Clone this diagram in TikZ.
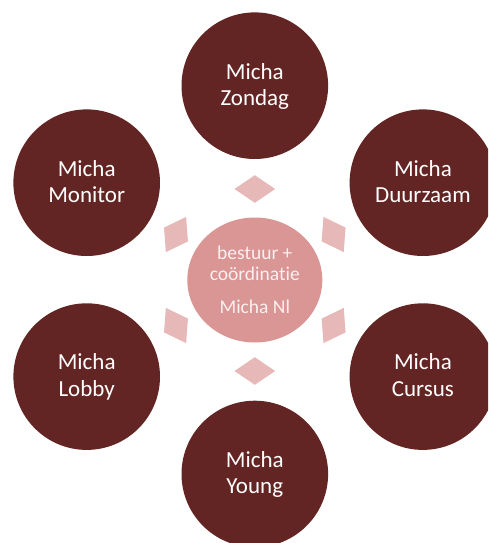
\documentclass[tikz,border=0pt]{standalone}
\usepackage{fontspec}
\setmainfont{Carlito}[Ligatures=NoCommon]
\usetikzlibrary{shapes.geometric,calc}
\definecolor{darkred}{RGB}{99,37,35}
\definecolor{hubpink}{RGB}{217,150,148}
\definecolor{diapink}{RGB}{230,185,184}
\definecolor{hubtext}{RGB}{250,240,240}
\tikzset{
  outer/.style={circle, fill=darkred, draw=none, minimum size=146.6pt, inner sep=0pt},
  hubnode/.style={ellipse, fill=hubpink, draw=none, minimum width=135pt, minimum height=125pt, inner sep=0pt},
  outtext/.style={anchor=base, text=white, inner sep=0pt, font=\fontsize{23}{26}\selectfont},
  hubtxt/.style={anchor=base, text=hubtext, inner sep=0pt, font=\fontsize{19.5}{21}\selectfont},
  dia/.style={fill=diapink, draw=none}
}
\begin{document}
\begin{tikzpicture}[x=1pt,y=-1pt]
\clip (0,0) rectangle (488,543);
\useasboundingbox (0,0) rectangle (488,543);
\fill[white] (0,0) rectangle (488,543);
% hub
\node[hubnode] (hub) at (254.8,280) {};
% outer circles
\node[outer] (zondag) at (254.8,85.7) {};
\node[outer] (monitor) at (86.7,182.7) {};
\node[outer] (duurzaam) at (422.9,182.7) {};
\node[outer] (lobby) at (86.7,376.6) {};
\node[outer] (cursus) at (422.9,376.6) {};
\node[outer] (young) at (254.8,474) {};
% diamonds
\foreach \a in {90,150,210,270,330,30} {
  \fill[dia, shift={(hub.center)}, rotate=\a-90] (-20.3,-91) -- (0,-104.8) -- (20.3,-91) -- (0,-77.2) -- cycle;
}
% outer texts
\foreach \n/\t in {zondag/Zondag, monitor/Monitor, duurzaam/Duurzaam, lobby/Lobby, cursus/Cursus, young/Young} {
  \node[outtext] (\n-a) at ($(\n.center)+(0,-6.7)$) {Micha};
  \node[outtext] (\n-b) at ($(\n.center)+(0,19.5)$) {\t};
}
% hub texts
\node[hubtxt] (hub-a) at ($(hub.center)+(0,-20.7)$) {bestuur +};
\node[hubtxt] (hub-b) at (hub.center) {coördinatie};
\node[hubtxt] (hub-c) at ($(hub.center)+(0,33.3)$) {Micha Nl};
\end{tikzpicture}
\end{document}
